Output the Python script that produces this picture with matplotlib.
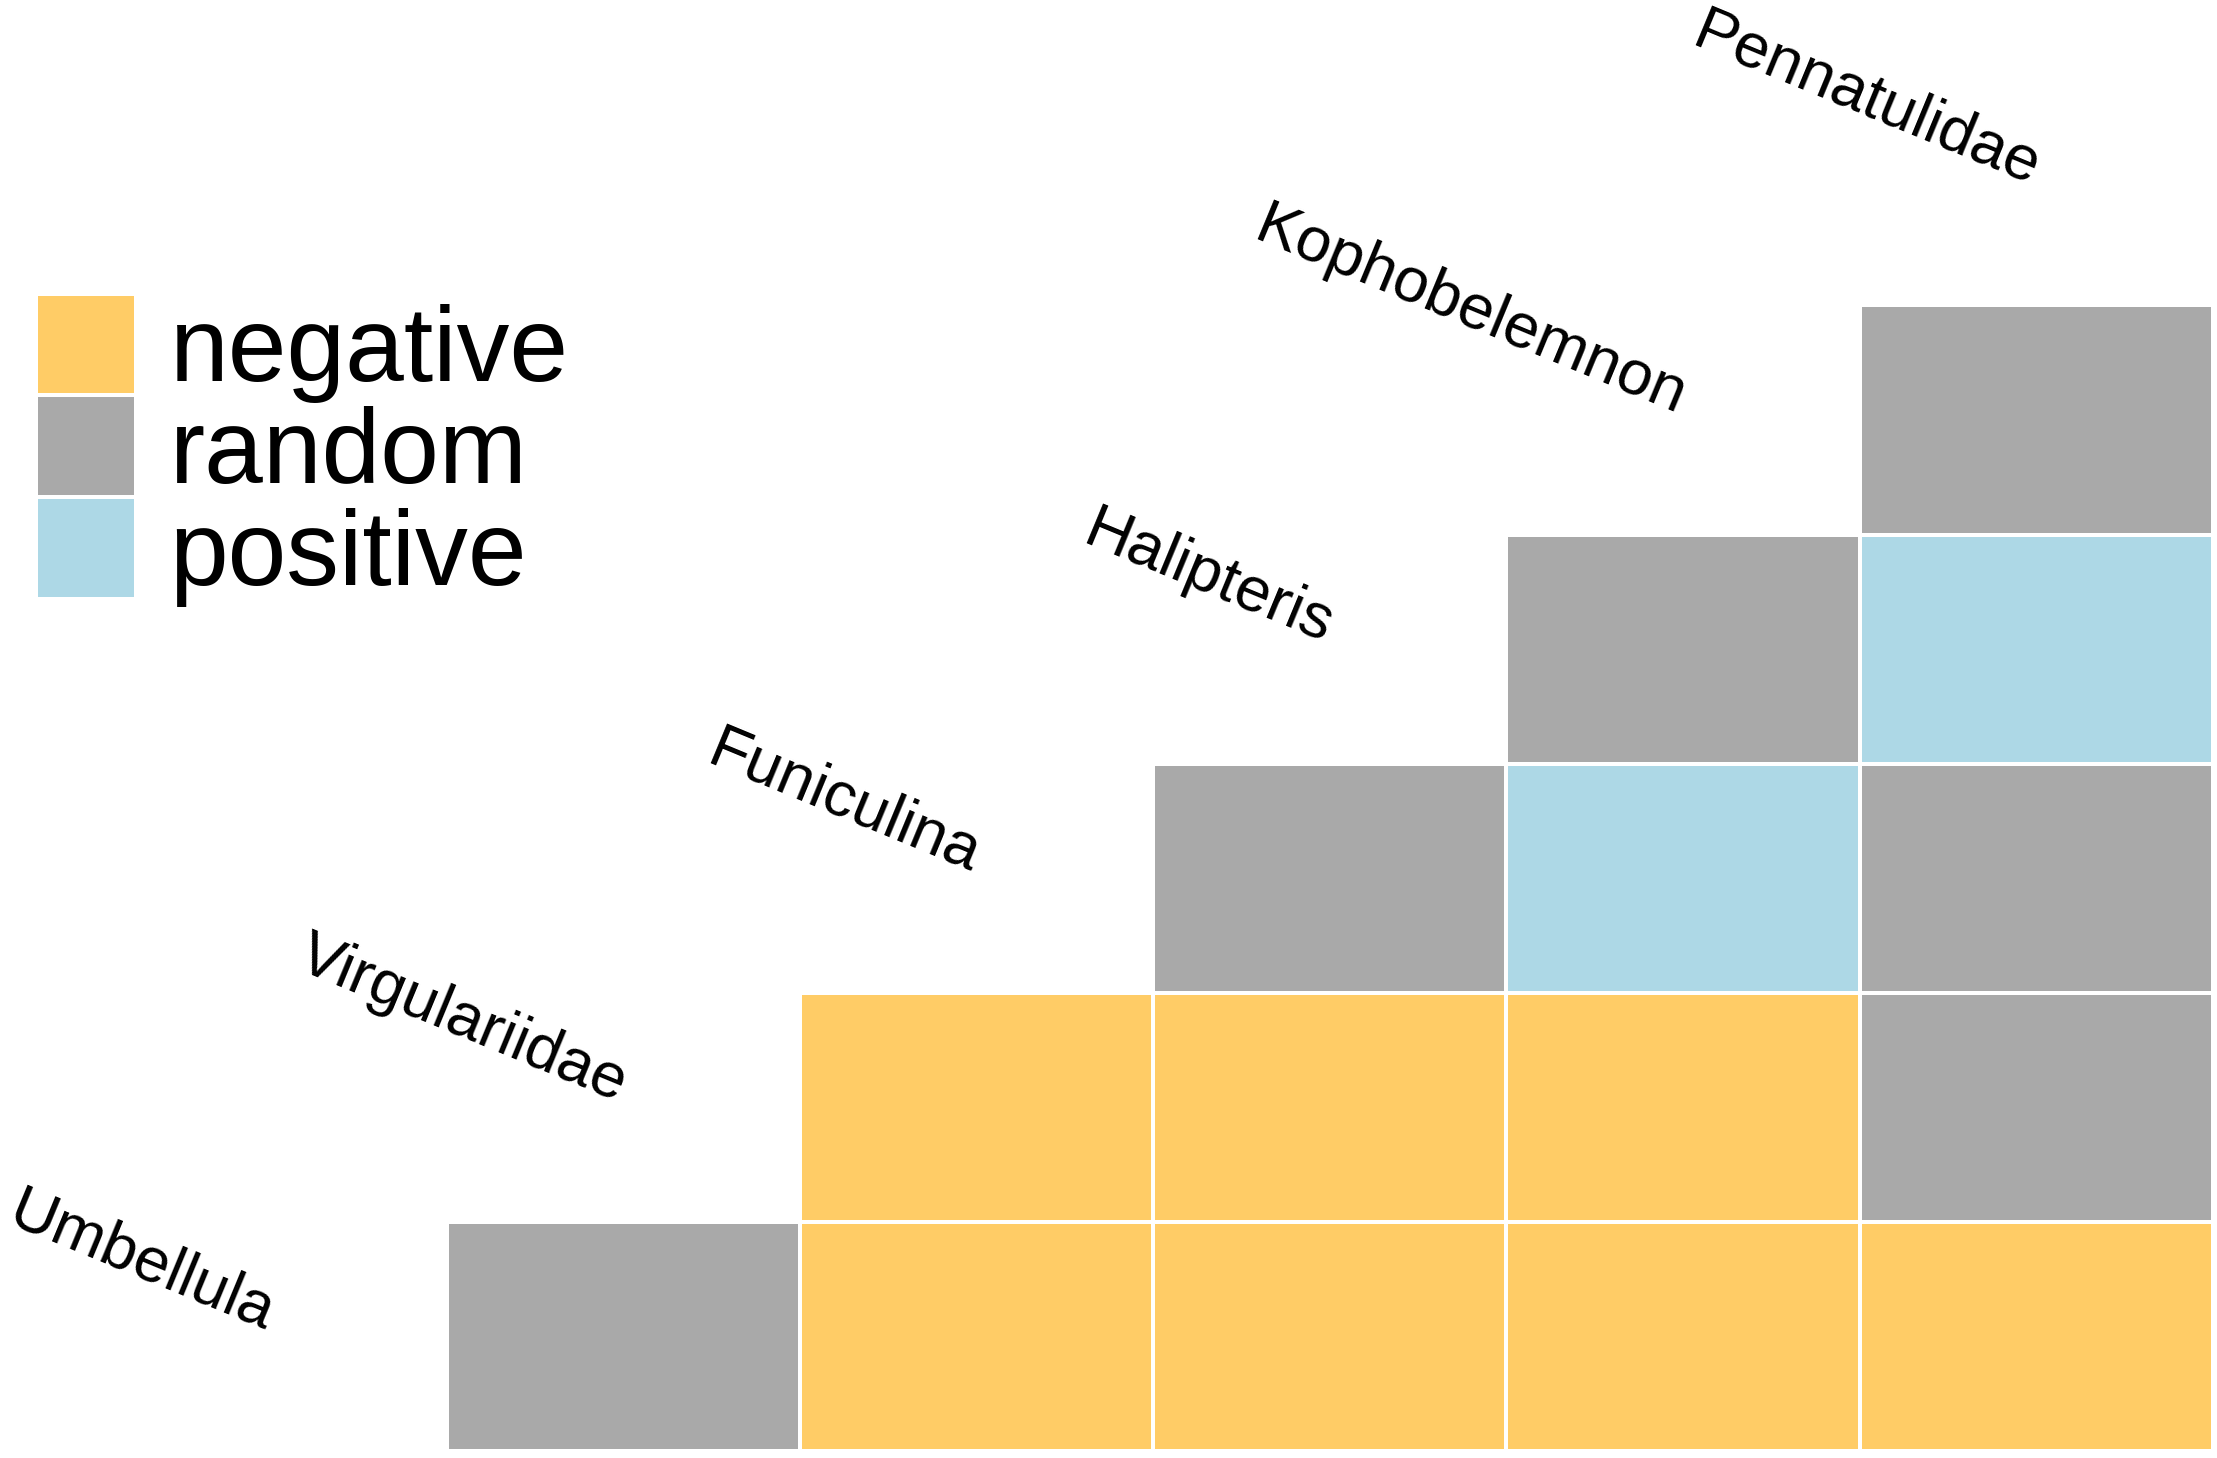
import numpy as np
import matplotlib.pyplot as plt
from matplotlib.colors import ListedColormap
from matplotlib.patches import Rectangle

species = ['Umbellula', 'Virgulariidae', 'Funiculina', 'Halipteris',
           'Kophobelemnon', 'Pennatulidae']
categories = ['negative', 'random', 'positive']
colors = ['#FFCC66', '#A9A9A9', '#ADD8E6']

# rows bottom -> top, one entry per column (None = empty)
row_umbellula = ['random', 'negative', 'negative', 'negative', 'negative']
row_virgulariidae = [None, 'negative', 'negative', 'negative', 'random']
row_funiculina = [None, None, 'random', 'positive', 'random']
row_halipteris = [None, None, None, 'random', 'positive']
row_kophobelemnon = [None, None, None, None, 'random']
rows = [row_umbellula, row_virgulariidae, row_funiculina,
        row_halipteris, row_kophobelemnon]

codes = np.full((len(rows), len(rows[0])), np.nan)
for i, r in enumerate(rows):
    for j, v in enumerate(r):
        if v is not None:
            codes[i, j] = categories.index(v)
codes = np.ma.masked_invalid(codes)

plt.rcParams['font.family'] = ['Liberation Sans', 'DejaVu Sans']
W, H = 2217, 1458
fig = plt.figure(figsize=(W / 100, H / 100), dpi=100)
ax = fig.add_axes([0, 0, 1, 1])
ax.axis('off')

ax.pcolormesh(np.arange(6), np.arange(6), codes, cmap=ListedColormap(colors),
              vmin=-0.5, vmax=2.5, edgecolors='white', linewidth=1.5)

# shrunk-image calibration: x 316 -> 0, 1565 -> 5 ; y 1026 -> 0, 216 -> 5
px = 5 / 1249
py = 5 / 810
ax.set_xlim(-316 * px, 5 + 3 * px)
ax.set_ylim(-5 * py, 5 + 216 * py)

for i, name in enumerate(species):
    ax.text(i - 0.53, i + 0.47, name, rotation=-22.5, rotation_mode='anchor',
            ha='right', va='bottom', fontsize=45.5, color='black')

# legend
def fx(x):
    return x * 1.414 / W

def fy(y):
    return 1 - y * 1.414 / H

box_tops = [209, 281, 353]
for k, cat in enumerate(categories):
    t = box_tops[k]
    fig.patches.append(Rectangle((fx(27), fy(t + 69)), fx(95) - fx(27),
                                 fy(t) - fy(t + 69), facecolor=colors[k],
                                 edgecolor='none', transform=fig.transFigure))
    fig.text(fx(120), fy(t + 41), cat, fontsize=76, va='center', ha='left')

fig.savefig('out.png', dpi=100)
